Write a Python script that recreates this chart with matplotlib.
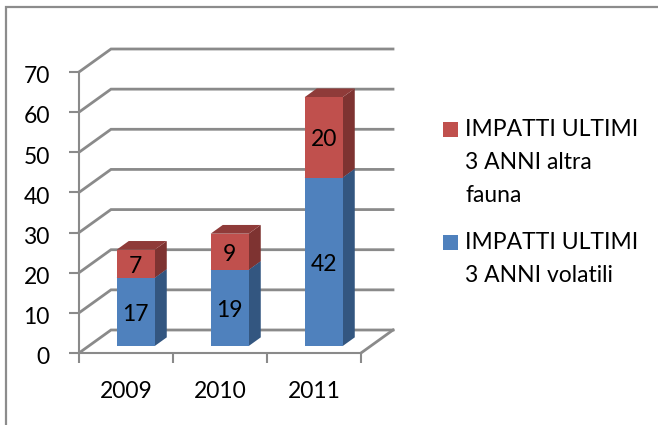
import matplotlib
matplotlib.use("Agg")
import matplotlib.pyplot as plt
from matplotlib.patches import Polygon, Rectangle
from matplotlib.lines import Line2D
from matplotlib.transforms import ScaledTranslation

plt.rcParams['font.family'] = ['Lato', 'DejaVu Sans']

years = ['2009', '2010', '2011']
volatili = [17, 19, 42]
altra_fauna = [7, 9, 20]
legend_labels = ['IMPATTI ULTIMI\n3 ANNI altra\nfauna', 'IMPATTI ULTIMI\n3 ANNI volatili']
y_ticks = [0, 10, 20, 30, 40, 50, 60, 70]

W, H = 658, 425
GRID = '#8a8a8a'
BLUE, BLUE_SIDE, BLUE_TOP = '#4f81bd', '#335680', '#3f6797'
RED, RED_SIDE, RED_TOP = '#c0504d', '#7e3331', '#8f3b39'
FS = 16.5

# plot box in pixels
x0, x1, y0, y1 = 79, 361, 353, 72
# depth of the floor, in data units
dx = 32 / ((x1 - x0) / 3)
dy = 23 / ((y0 - y1) / 70)


def proj(x, y, d):
    return x + d * dx, y + d * dy


def face(ax, pts, color, z):
    ax.add_patch(Polygon(pts, closed=True, fc=color, ec='none', zorder=z, clip_on=False))


def box(ax, left, right, bot, top, d0, d1, front, side, topc, z):
    face(ax, [proj(left, bot, d0), proj(right, bot, d0), proj(right, top, d0), proj(left, top, d0)], front, z + 0.2)
    face(ax, [proj(right, bot, d0), proj(right, bot, d1), proj(right, top, d1), proj(right, top, d0)], side, z + 0.1)
    face(ax, [proj(left, top, d0), proj(right, top, d0), proj(right, top, d1), proj(left, top, d1)], topc, z + 0.1)


fig = plt.figure(figsize=(W / 100, H / 100), dpi=100)
# outer frame, only top and left are in the crop
fig.add_artist(Line2D([5.5 / W, 5.5 / W, 1], [0, 1 - 7 / H, 1 - 7 / H], transform=fig.transFigure,
                      color='#8c8c8c', lw=1.6, solid_joinstyle='miter'))

ax = fig.add_axes([x0 / W, 1 - y0 / H, (x1 - x0) / W, (y0 - y1) / H])
ax.patch.set_visible(False)
ax.set_xlim(0, 3)
ax.set_ylim(0, 70)

for s in ['top', 'right']:
    ax.spines[s].set_visible(False)
for s in ['left', 'bottom']:
    ax.spines[s].set_color(GRID)
    ax.spines[s].set_linewidth(1.5)

ax.set_yticks(y_ticks)
ax.set_xticks([0, 1, 2, 3])
ax.set_xticklabels([])
ax.tick_params(axis='both', color=GRID, width=1.5, length=7)
ax.tick_params(axis='y', labelsize=FS, pad=14)
ax.set_xticks([0.5, 1.5, 2.5], labels=years, minor=True)
ax.tick_params(axis='x', which='minor', length=0, labelsize=FS, pad=20)
# y labels sit a little under their ticks
down = ScaledTranslation(0, -2 / 72, fig.dpi_scale_trans)
for lab in ax.get_yticklabels():
    lab.set_transform(lab.get_transform() + down)

# walls and floor
for v in y_ticks:
    xs, ys = zip(proj(0, v, 0), proj(0, v, 1), proj(3, v, 1))
    ax.plot(xs, ys, color=GRID, lw=2, clip_on=False, zorder=1, solid_joinstyle='miter')
xs, ys = zip(proj(3, 0, 0), proj(3, 0, 1))
ax.plot(xs, ys, color=GRID, lw=2, clip_on=False, zorder=1)

# bars
d0, d1 = 0.3, 0.68
width = 38 / ((x1 - x0) / 3)
for i in range(len(years)):
    left = i + 0.5 - width / 2
    right = left + width
    v, a = volatili[i], altra_fauna[i]
    box(ax, left, right, 0, v, d0, d1, BLUE, BLUE_SIDE, BLUE_TOP, 3)
    box(ax, left, right, v, v + a, d0, d1, RED, RED_SIDE, RED_TOP, 4)
    ax.annotate(str(v), proj(i + 0.5, v / 2, d0), xytext=(0, -1.8), textcoords='offset points',
                ha='center', va='center', fontsize=FS, color='black', zorder=6)
    ax.annotate(str(a), proj(i + 0.5, v + a / 2, d0), xytext=(0, -1.8), textcoords='offset points',
                ha='center', va='center', fontsize=FS, color='black', zorder=6)

# legend
colors = [RED, BLUE]
tops = [122, 235]
for lab, c, t in zip(legend_labels, colors, tops):
    fig.add_artist(Rectangle((443 / W, 1 - (t + 15) / H), 15 / W, 15 / H, transform=fig.transFigure, fc=c, ec='none'))
    fig.text(465 / W, 1 - (t - 3) / H, lab, ha='left', va='top', fontsize=FS, color='black', linespacing=1.72)

fig.savefig('out.png', dpi=100)
